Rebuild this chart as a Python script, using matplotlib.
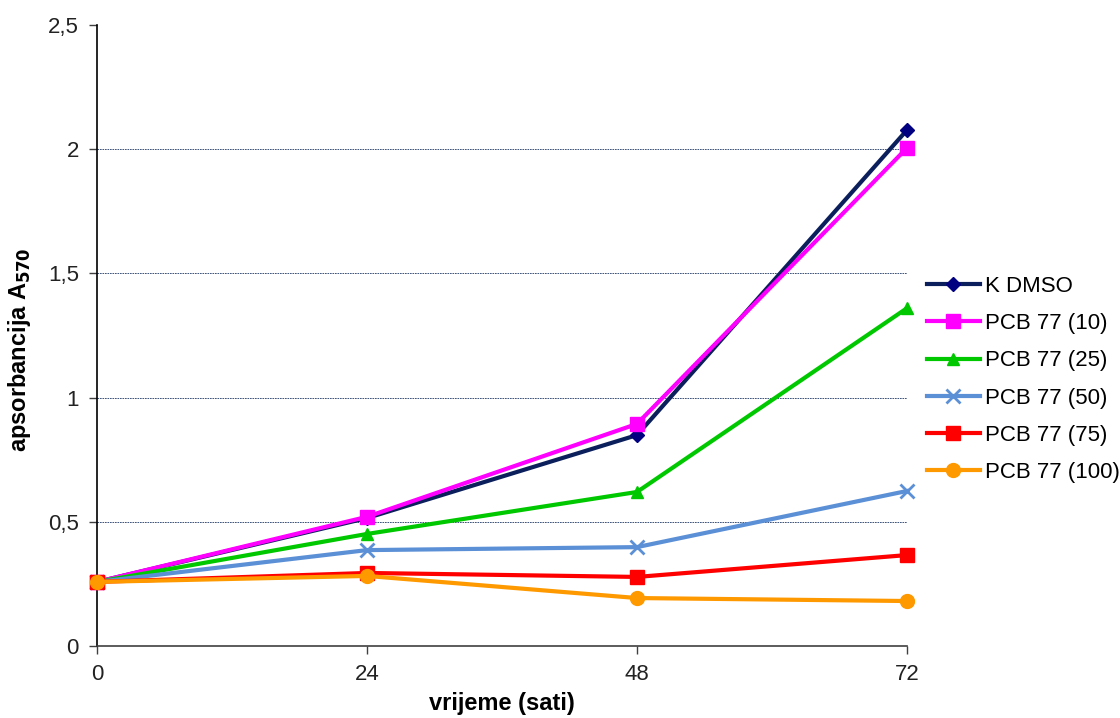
import matplotlib
matplotlib.use("Agg")
import matplotlib.pyplot as plt
from matplotlib.ticker import FuncFormatter

plt.rcParams['font.family'] = ['Liberation Sans', 'DejaVu Sans']

# time points (hours)
hours = [0, 24, 48, 72]

# absorbance A570 per treatment
k_dmso = [0.258, 0.515, 0.849, 2.077]
pcb_10 = [0.258, 0.520, 0.894, 2.005]
pcb_25 = [0.258, 0.451, 0.620, 1.360]
pcb_50 = [0.258, 0.386, 0.398, 0.624]
pcb_75 = [0.258, 0.294, 0.278, 0.366]
pcb_100 = [0.258, 0.282, 0.193, 0.181]

labels = ["K DMSO", "PCB 77 (10)", "PCB 77 (25)", "PCB 77 (50)", "PCB 77 (75)", "PCB 77 (100)"]
series = [k_dmso, pcb_10, pcb_25, pcb_50, pcb_75, pcb_100]
colors = ["#0B1F5C", "#FF00FF", "#00C800", "#5B8FD6", "#FF0000", "#FF9900"]
marker_colors = ["#000080", "#FF00FF", "#00C800", "#5B8FD6", "#FF0000", "#FF9900"]
markers = ["D", "s", "^", "x", "s", "o"]
msizes = [7, 10, 9, 10, 10, 10]

fig = plt.figure(figsize=(11.2, 7.18), dpi=100)
ax = fig.add_axes([0.0866, 0.1003, 0.7232, 0.8649])

yticks = [0, 0.5, 1, 1.5, 2, 2.5]
grid_levels = [0.5, 1, 1.5, 2]
ax.hlines(grid_levels, 0, 72, colors="#1F3864", linestyles=(0, (2, 1)), linewidth=0.6, zorder=1)

for vals, lab, c, mc, m, ms in zip(series, labels, colors, marker_colors, markers, msizes):
    ax.plot(hours, vals, color=c, linewidth=3, marker=m, markersize=ms,
            markerfacecolor=mc, markeredgecolor=mc, markeredgewidth=2 if m == "x" else 1,
            label=lab, zorder=3, clip_on=False)

ax.set_xlim(0, 72)
ax.set_ylim(0, 2.5)
ax.set_xticks(hours)
ax.set_yticks(yticks)
ax.yaxis.set_major_formatter(FuncFormatter(lambda v, p: ("%g" % v).replace(".", ",")))

for s in ["top", "right"]:
    ax.spines[s].set_visible(False)
ax.spines["left"].set_linewidth(1.2)
ax.spines["bottom"].set_linewidth(1.2)
ax.spines["bottom"].set_color("#404040")
ax.tick_params(axis="both", labelsize=16, colors="#404040", labelcolor="#222222", length=6, width=1, direction="out", pad=7)

ax.set_xlabel("vrijeme (sati)", fontsize=17, fontweight="bold", labelpad=5)
ax.set_ylabel("apsorbancija A$_{\\mathbf{570}}$", fontsize=17, fontweight="bold")
ax.yaxis.set_label_coords(-0.079, 0.477)

ax.legend(loc="center left", bbox_to_anchor=(1.0135, 0.429), frameon=False, fontsize=16,
          handlelength=2.4, handletextpad=0.2, labelspacing=0.73, borderaxespad=0)

fig.savefig("out.png", dpi=100)
